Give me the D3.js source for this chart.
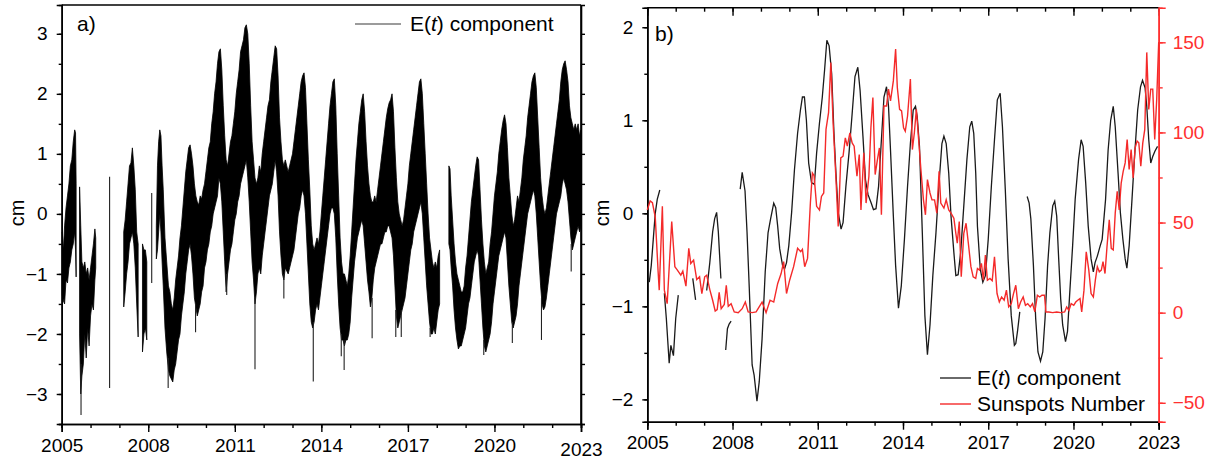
<!DOCTYPE html>
<html><head><meta charset="utf-8">
<script src="https://cdn.jsdelivr.net/npm/d3@7"></script>
<style>body{margin:0;background:#fff}svg{display:block}text{font-family:"Liberation Sans",Arial,sans-serif}</style>
</head><body><svg id="c" width="1219" height="461"></svg>
<script>
// ---------- Panel a: E(t) band (upper/lower envelope, null = data gap) ----------
const aYears = [2005.02,2005.06,2005.10,2005.15,2005.20,2005.25,2005.30,2005.35,2005.40,2005.45,2005.48,2005.50,2005.55,
2005.62,2005.66,2005.70,2005.75,2005.80,2005.85,2005.90,2005.95,2006.00,2006.05,2006.10,2006.15,2006.18,2006.3,
2007.15,2007.20,2007.25,2007.30,2007.35,2007.40,2007.45,2007.50,2007.55,2007.60,2007.65,2007.72,
2007.80,2007.85,2007.90,2007.95,2008.1,
2008.28,2008.32,2008.36,2008.40,2008.44,2008.48,2008.52,2008.58,2008.64,2008.70,2008.75,2008.80,2008.85,2008.90,2008.95,
2009.00,2009.05,2009.10,2009.15,2009.20,2009.25,2009.30,2009.35,2009.40,2009.45,2009.50,2009.55,2009.60,2009.65,2009.70,2009.75,2009.80,2009.85,2009.90,2009.95,
2010.00,2010.05,2010.10,2010.15,2010.20,2010.25,2010.30,2010.35,2010.40,2010.45,2010.50,2010.55,2010.60,2010.65,2010.70,2010.75,2010.80,2010.85,2010.90,2010.95,
2011.00,2011.05,2011.10,2011.15,2011.20,2011.25,2011.30,2011.35,2011.40,2011.45,2011.50,2011.55,2011.60,2011.65,2011.70,2011.75,2011.80,2011.85,2011.90,2011.95,
2012.00,2012.05,2012.10,2012.15,2012.20,2012.25,2012.30,2012.35,2012.40,2012.45,2012.50,2012.55,2012.60,2012.65,2012.70,2012.75,2012.80,2012.85,2012.90,2012.95,
2013.00,2013.05,2013.10,2013.15,2013.20,2013.25,2013.30,2013.35,2013.40,2013.45,2013.50,2013.55,2013.60,2013.65,2013.70,2013.75,2013.80,2013.85,2013.90,2013.95,
2014.00,2014.05,2014.10,2014.15,2014.20,2014.25,2014.30,2014.35,2014.40,2014.45,2014.50,2014.55,2014.60,2014.65,2014.70,2014.75,2014.80,2014.85,2014.90,2014.95,
2015.00,2015.05,2015.10,2015.15,2015.20,2015.25,2015.30,2015.35,2015.40,2015.45,2015.50,2015.55,2015.60,2015.65,2015.70,2015.75,2015.80,2015.85,2015.90,2015.95,
2016.00,2016.05,2016.10,2016.15,2016.20,2016.25,2016.30,2016.35,2016.40,2016.45,2016.50,2016.55,2016.60,2016.65,2016.70,2016.75,2016.80,2016.85,2016.90,2016.95,
2017.00,2017.05,2017.10,2017.15,2017.20,2017.25,2017.30,2017.35,2017.40,2017.45,2017.50,2017.55,2017.60,2017.65,2017.70,2017.75,2017.80,2017.85,2017.90,2017.95,
2018.00,2018.05,2018.10,2018.2,
2018.42,2018.46,2018.50,2018.55,2018.60,2018.65,2018.70,2018.75,2018.80,2018.85,2018.90,2018.95,
2019.00,2019.05,2019.10,2019.15,2019.20,2019.25,2019.30,2019.35,2019.40,2019.45,2019.50,2019.55,2019.60,2019.65,2019.70,2019.75,2019.80,2019.85,2019.90,2019.95,
2020.00,2020.05,2020.10,2020.15,2020.20,2020.25,2020.30,2020.35,2020.40,2020.45,2020.50,2020.55,2020.60,2020.65,2020.70,2020.75,2020.80,2020.85,2020.90,2020.95,
2021.00,2021.05,2021.10,2021.15,2021.20,2021.25,2021.30,2021.35,2021.40,2021.45,2021.50,2021.55,2021.60,2021.65,2021.70,2021.75,2021.80,2021.85,2021.90,2021.95,
2022.00,2022.05,2022.10,2022.15,2022.20,2022.25,2022.30,2022.35,2022.40,2022.45,2022.50,2022.55,2022.60,2022.65,2022.70,2022.75,2022.80,2022.85,2022.90,2022.95,2023.00];
const aUpper = [-0.3,-0.6,-0.2,0.1,0.3,0.5,0.8,0.9,1.2,1.4,1.35,0.5,null,
0.45,-0.2,-0.8,-0.9,-0.8,-1.0,-0.9,-1.1,-0.9,-0.7,-0.5,-0.25,-0.4,null,
-0.3,-0.1,0.2,0.5,0.8,0.85,1.1,0.8,0.4,-0.3,-0.5,null,
-0.5,-0.6,-0.6,-0.8,null,
-0.2,0.8,1.2,1.4,1.3,0.8,0.4,-0.4,-0.8,-1.2,-1.3,-1.5,-1.6,-1.4,-1.1,
-0.9,-0.7,-0.4,-0.2,0.1,0.4,0.7,0.9,1.1,1.15,1.0,0.8,0.5,0.3,0.2,0.15,0.3,0.25,0.4,0.5,
0.7,0.9,1.1,1.2,1.5,1.7,2.0,2.2,2.5,2.7,2.75,2.4,1.8,1.3,0.9,0.8,1.0,1.2,1.3,1.5,
1.7,2.0,2.2,2.4,2.7,2.8,2.9,3.1,3.15,3.0,2.5,1.8,1.2,0.9,0.6,0.5,0.6,0.8,0.7,1.0,
1.2,1.4,1.6,1.8,1.9,2.2,2.4,2.6,2.8,2.75,2.3,1.6,1.2,0.9,0.8,0.9,0.8,0.7,0.8,0.9,
1.0,1.2,1.4,1.6,1.8,2.0,2.2,2.3,2.35,2.1,1.5,0.9,0.4,-0.2,-0.5,-0.6,-0.5,-0.4,-0.5,-0.3,
0.0,0.3,0.6,0.9,1.2,1.5,1.8,2.0,2.2,2.25,1.8,1.0,0.3,-0.4,-0.8,-1.0,-1.0,-1.1,-1.2,-1.0,
-0.7,-0.3,0.1,0.5,0.9,1.2,1.5,1.7,1.9,2.0,1.7,1.2,0.8,0.5,0.3,0.2,0.2,0.3,0.2,0.4,
0.6,0.8,1.0,1.2,1.4,1.6,1.75,1.85,1.9,2.0,1.7,1.1,0.6,0.2,0.0,-0.1,-0.2,-0.1,0.1,0.3,
0.5,0.8,1.0,1.2,1.4,1.6,1.8,2.0,2.2,2.25,2.0,1.5,1.0,0.5,0.0,-0.4,-0.6,-0.8,-0.9,-0.8,
-0.9,-0.7,-0.6,null,
0.8,0.75,0.3,-0.1,-0.5,-0.8,-1.0,-1.1,-1.2,-1.3,-1.3,-1.2,
-0.9,-0.7,-0.4,-0.1,0.2,0.4,0.6,0.8,0.95,0.9,0.4,-0.1,-0.5,-0.8,-1.0,-0.9,-0.8,-0.5,-0.3,0.0,
0.3,0.5,0.7,1.0,1.2,1.4,1.55,1.65,1.5,1.1,0.6,0.3,0.0,-0.2,-0.1,0.1,0.3,0.2,0.4,0.6,
0.9,1.1,1.3,1.6,1.8,2.0,2.2,2.3,2.35,2.1,1.6,1.1,0.6,0.3,0.1,0.0,0.1,0.3,0.5,0.7,
0.9,1.1,1.3,1.5,1.7,1.9,2.2,2.4,2.5,2.55,2.4,2.2,1.8,1.6,1.5,1.4,1.5,1.4,1.5,1.3,1.4];
const aLower = [-1.35,-1.45,-1.5,-1.1,-1.15,-0.9,-0.8,-0.6,-0.5,-0.3,-0.6,-1.05,null,
-2.0,-3.0,-2.7,-2.5,-2.0,-2.4,-1.9,-2.2,-1.7,-1.5,-1.6,-1.1,-0.9,null,
-1.55,-1.3,-1.0,-0.8,-0.5,-0.4,-0.3,-0.5,-0.9,-1.5,-2.05,null,
-2.3,-2.0,-1.9,-2.1,null,
-0.75,-0.6,-0.3,0.0,-0.3,-0.8,-1.2,-1.9,-2.3,-2.6,-2.7,-2.75,-2.8,-2.6,-2.5,
-2.3,-2.1,-2.0,-1.7,-1.5,-1.3,-1.0,-0.8,-0.6,-0.5,-0.7,-1.0,-1.4,-1.55,-1.7,-1.6,-1.5,-1.3,-1.2,-0.9,
-0.8,-0.6,-0.5,-0.3,-0.2,0.0,0.1,0.2,0.3,0.6,0.5,0.2,-0.3,-0.8,-1.3,-1.0,-0.8,-0.6,-0.5,-0.3,
-0.1,0.0,0.2,0.3,0.5,0.6,0.7,0.8,0.9,0.6,0.2,-0.3,-0.8,-1.1,-1.5,-1.3,-1.0,-0.9,-1.0,-0.7,
-0.5,-0.3,-0.1,0.1,0.3,0.4,0.5,0.7,0.9,0.7,0.3,-0.3,-0.7,-1.0,-1.1,-0.9,-0.95,-1.0,-0.9,-0.8,
-0.7,-0.6,-0.4,-0.2,0.0,0.1,0.3,0.4,0.3,0.0,-0.5,-1.0,-1.5,-1.8,-1.9,-1.8,-1.6,-1.5,-1.6,-1.4,
-1.2,-1.0,-0.8,-0.6,-0.4,-0.2,0.0,0.1,0.1,0.0,-0.4,-1.0,-1.5,-1.9,-2.1,-2.1,-2.2,-2.1,-2.1,-2.0,
-1.8,-1.4,-1.1,-0.8,-0.6,-0.4,-0.3,-0.2,-0.1,-0.2,-0.5,-0.8,-1.1,-1.3,-1.55,-1.4,-1.1,-0.9,-0.8,-0.7,
-0.6,-0.5,-0.5,-0.4,-0.3,-0.3,-0.2,-0.2,-0.3,-0.4,-0.7,-1.2,-1.7,-1.9,-1.8,-1.7,-1.6,-1.5,-1.4,-1.2,
-1.0,-0.8,-0.6,-0.5,-0.3,-0.2,-0.1,0.0,0.1,0.2,0.0,-0.4,-0.8,-1.2,-1.5,-1.8,-2.0,-2.0,-1.9,-2.0,
-1.8,-1.6,-1.5,null,
-0.5,-0.6,-0.9,-1.2,-1.6,-1.9,-2.1,-2.25,-2.2,-2.2,-2.1,-2.0,
-1.9,-1.7,-1.5,-1.4,-1.2,-1.0,-0.8,-0.7,-0.6,-0.7,-1.1,-1.5,-1.9,-2.2,-2.3,-2.2,-2.1,-2.0,-1.8,-1.5,
-1.3,-1.1,-0.9,-0.7,-0.6,-0.5,-0.4,-0.3,-0.4,-0.8,-1.2,-1.5,-1.8,-1.9,-1.8,-1.7,-1.5,-1.2,-1.0,-0.8,
-0.6,-0.4,-0.2,0.0,0.1,0.2,0.3,0.4,0.3,0.0,-0.4,-0.8,-1.2,-1.5,-1.6,-1.55,-1.4,-1.2,-1.0,-0.8,
-0.6,-0.4,-0.2,0.0,0.1,0.2,0.3,0.5,0.6,0.5,0.4,0.2,-0.1,-0.4,-0.6,-0.5,-0.4,-0.3,-0.2,-0.3,-0.2];
// isolated spikes in panel a
const spikeYears  = [2005.67,2006.66,2008.12,2008.69,2009.64,2010.72,2011.70,2012.70,2013.72,2014.69,2014.79,2015.76,2016.58,2016.77,2017.77,2019.63,2020.62,2021.63,2022.66];
const spikeTop    = [-2.5, 0.62, 0.35,-2.4,-1.5,-1.0,-1.4,-1.0,-1.8,-2.0,-2.1,-1.4,-1.6,-1.6,-1.9,-2.1,-1.8,-1.4,-0.5];
const spikeBottom = [-3.35,-2.9,-1.15,-2.9,-1.97,-1.35,-2.59,-1.41,-2.79,-2.37,-2.6,-2.07,-2.05,-2.05,-2.05,-2.35,-2.15,-2.1,-0.96];

// ---------- Panel b: monthly E(t) component (null = gap) ----------
const eYears = [2005.07,2005.14,2005.21,2005.28,2005.35,2005.44,2005.5,
2005.60,2005.67,2005.77,2005.83,2005.92,2006.00,2006.09,2006.3,
2006.60,2006.70,2006.9,
2007.09,2007.20,2007.30,2007.37,2007.44,2007.50,2007.59,2007.65,
2007.76,2007.82,2007.88,2007.95,2008.1,
2008.27,2008.34,2008.44,2008.51,2008.59,2008.69,2008.76,2008.86,2008.94,2009.04,2009.15,2009.25,2009.34,2009.45,2009.52,2009.59,2009.66,2009.76,2009.83,2009.90,2009.98,
2010.08,2010.18,2010.29,2010.39,2010.46,2010.53,2010.60,2010.68,2010.78,2010.88,2010.96,2011.06,2011.16,2011.24,2011.32,2011.40,2011.49,2011.57,2011.64,2011.72,2011.82,2011.89,2011.99,
2012.10,2012.21,2012.31,2012.41,2012.49,2012.59,2012.68,2012.77,2012.88,2012.96,2013.05,2013.14,2013.24,2013.33,2013.42,2013.49,2013.56,2013.66,2013.74,2013.84,2013.94,
2014.05,2014.16,2014.26,2014.36,2014.44,2014.50,2014.58,2014.68,2014.77,2014.86,2014.95,2015.05,2015.16,2015.27,2015.37,2015.44,2015.52,2015.61,2015.69,2015.79,2015.86,2015.94,
2016.03,2016.14,2016.25,2016.35,2016.42,2016.49,2016.56,2016.62,2016.72,2016.81,2016.90,2017.00,2017.11,2017.22,2017.32,2017.42,2017.50,2017.60,2017.70,2017.81,2017.92,2017.97,2018.03,2018.11,2018.2,
2018.37,2018.44,2018.50,2018.59,2018.67,2018.75,2018.84,2018.92,2019.00,2019.09,2019.17,2019.27,2019.34,2019.41,2019.48,2019.55,2019.62,2019.72,2019.79,2019.87,2019.97,
2020.06,2020.18,2020.27,2020.34,2020.43,2020.52,2020.62,2020.70,2020.76,2020.84,2020.94,2021.01,2021.13,2021.22,2021.31,2021.40,2021.47,2021.57,2021.65,2021.74,2021.82,2021.88,2021.96,
2022.06,2022.15,2022.26,2022.36,2022.43,2022.52,2022.58,2022.65,2022.72,2022.79,2022.87,2022.96];
const eValues = [-0.74,-0.56,-0.28,0.0,0.15,0.25,null,
-0.86,-1.13,-1.61,-1.42,-1.53,-1.13,-0.88,null,
-0.70,-0.93,null,
-0.83,-0.53,-0.2,-0.06,0.01,-0.2,-0.70,null,
-1.47,-1.24,-1.19,-1.16,null,
0.26,0.44,0.24,-0.2,-0.81,-1.63,-1.74,-2.02,-1.81,-1.35,-0.63,-0.21,-0.06,0.11,0.06,-0.14,-0.38,-0.56,-0.6,-0.53,-0.35,
0.01,0.47,0.86,1.11,1.25,1.25,1.0,0.54,0.33,0.31,0.65,0.97,1.25,1.54,1.86,1.8,1.5,0.86,0.43,0.01,-0.17,-0.1,0.29,
0.65,1.07,1.47,1.57,1.32,0.83,0.36,0.2,0.11,0.04,0.05,0.29,0.79,1.25,1.36,1.15,0.68,-0.03,-0.56,-1.02,-0.78,
-0.28,0.29,0.75,1.11,1.15,1.04,0.72,-0.21,-1.1,-1.52,-1.2,-0.67,-0.21,0.33,0.75,0.83,0.75,0.43,-0.03,-0.42,-0.67,-0.66,
-0.42,0.08,0.58,0.93,0.99,0.86,0.43,-0.14,-0.6,-0.74,-0.67,-0.28,0.29,0.79,1.22,1.29,0.93,0.26,-0.49,-1.1,-1.42,-1.4,-1.27,-1.06,null,
0.18,0.11,-0.06,-0.56,-1.13,-1.49,-1.59,-1.49,-1.13,-0.56,-0.21,0.08,0.13,-0.03,-0.49,-0.92,-1.2,-1.38,-1.27,-0.85,-0.35,
0.15,0.58,0.79,0.72,0.33,-0.14,-0.49,-0.63,-0.53,-0.46,-0.35,-0.28,0.15,0.68,1.0,1.15,0.93,0.43,0.01,-0.28,-0.49,-0.59,-0.35,
0.15,0.61,1.11,1.36,1.43,1.35,1.15,0.79,0.54,0.61,0.67,0.72];

// ---------- Panel b: Sunspots Number ----------
const ssnYears = [2005.00,2005.10,2005.18,2005.28,2005.38,2005.42,2005.53,2005.60,2005.70,2005.86,2005.97,2006.04,2006.18,2006.25,2006.36,2006.46,2006.53,2006.63,2006.74,2006.84,2006.92,
2007.02,2007.09,2007.20,2007.30,2007.39,2007.46,2007.53,2007.60,2007.71,2007.78,2007.85,2007.95,2008.06,2008.20,2008.34,2008.45,2008.55,2008.69,2008.83,
2009.04,2009.18,2009.32,2009.45,2009.59,2009.71,2009.80,2009.90,2010.01,2010.15,2010.29,2010.40,2010.46,2010.54,2010.64,2010.74,2010.81,2010.87,2010.96,
2011.06,2011.13,2011.21,2011.29,2011.38,2011.46,2011.54,2011.63,2011.72,2011.81,2011.89,2011.97,2012.04,2012.13,2012.21,2012.28,2012.38,2012.46,2012.52,2012.62,2012.70,2012.80,2012.87,2012.94,
2013.02,2013.10,2013.17,2013.24,2013.33,2013.42,2013.49,2013.56,2013.66,2013.74,2013.80,2013.88,2013.95,2014.02,2014.08,2014.16,2014.26,2014.33,2014.40,2014.47,2014.55,2014.63,2014.72,2014.79,2014.86,2014.95,
2015.02,2015.11,2015.19,2015.27,2015.33,2015.44,2015.52,2015.61,2015.69,2015.79,2015.86,2015.91,2015.98,2016.05,2016.14,2016.22,2016.30,2016.39,2016.47,2016.56,2016.62,2016.69,2016.76,2016.83,2016.90,2016.97,
2017.06,2017.14,2017.22,2017.31,2017.39,2017.47,2017.56,2017.64,2017.72,2017.81,2017.89,2017.97,2018.06,2018.14,2018.23,2018.31,2018.39,2018.48,2018.56,2018.64,2018.73,2018.81,2018.89,2018.98,
2019.03,2019.13,2019.27,2019.41,2019.55,2019.69,2019.76,2019.84,2019.92,2020.01,2020.08,2020.15,2020.23,2020.29,2020.37,2020.45,2020.54,2020.62,2020.70,2020.77,2020.84,2020.91,2020.98,
2021.04,2021.11,2021.18,2021.26,2021.33,2021.40,2021.47,2021.54,2021.61,2021.68,2021.75,2021.82,2021.89,2021.96,2022.03,2022.10,2022.17,2022.24,2022.30,2022.37,2022.44,2022.51,2022.58,2022.65,2022.72,2022.79,2022.86,2022.93,2023.00];
const ssnValues = [57,62,61,53,23,12.5,59,12.5,5,50.6,25.5,24,20.8,23,14.7,35.7,27.3,29.2,18.4,19.9,10.6,
19.9,20.8,12.8,6.9,0.9,1.7,11.3,2.2,4.6,15.2,3.5,5,0.4,0,2.2,5.9,0.4,0,0.4,
5.9,0,6.9,5.9,16.2,21.7,28.3,10.6,18,25.5,35.7,33.8,35.1,25.5,30.1,60.8,77.5,76,59,
57,64.5,66.4,101.7,111,138.8,105.4,77.5,47.8,85.9,86.8,97,92.4,99.8,94.2,92.4,75.7,87.7,57,88.7,60.8,75.7,102.6,119.3,
76.6,84.9,91.4,54.3,114.7,114.7,124,117.5,128.6,146.3,124.9,112.8,111.9,102.6,100.7,109.1,129.6,90.5,99.8,112.8,96.1,79.4,62.6,54.3,73.8,66.4,
62.6,62.6,55.2,78.4,60.8,58,62.6,57,55.2,52.4,44,38.5,50.6,19.9,44,49.6,38.5,25.5,19.9,19,24.5,23.6,27.3,18,32,18,
19,17.7,31,10.6,5.9,8.7,6.9,12.5,3.2,5,10.6,15.2,2.2,5.9,8.7,4.1,5,3.2,5,0.4,9.7,8.7,9.7,9.7,
0.4,0.4,0,0.4,0,0.4,3.2,1.3,5,4.1,5.9,6.9,7.8,0.4,12.5,33.8,23.6,10.6,8.7,18,25.5,22.7,23.6,
28.3,21.7,36.6,51.5,35.7,34.8,55.2,67.3,57,71.9,78.4,83.1,96.1,79.4,90.5,74.7,91.4,95.2,94.2,81.2,94.2,101.7,144.4,112.8,124,124,96.1,118.4,150];

// ---------- ticks ----------
const yearTicks = [2005,2008,2011,2014,2017,2020,2023];
const yearMinor = d3.range(2005,2024,1);
const aTicks = [-3,-2,-1,0,1,2,3];
const bTicks = [-2,-1,0,1,2];
const ssnTicks = [-50,0,50,100,150];

// ---------- drawing ----------
const svg = d3.select("#c");
const FS = 19;
const xA = d3.scaleLinear([2005,2023],[61.7,581]);
const yA = d3.scaleLinear([-3.5,3.48],[424,5]);
const xB = d3.scaleLinear([2005,2023],[647.3,1158.7]);
const yB = d3.scaleLinear([-2.24,2.21],[421.7,7.7]);
const yR = d3.scaleLinear([-60.5,169.2],[421.7,7.7]);

function styleAxis(g, color){
  g.selectAll("path").attr("stroke",color).attr("stroke-width",1.6);
  g.selectAll("line").attr("stroke",color).attr("stroke-width",1.4);
  g.selectAll("text").attr("fill",color).style("font-size",FS+"px").style("font-family","'Liberation Sans',Arial,sans-serif");
}
function axes(g, x, y, yt, yMinorStep, xPad){
  const [x0,x1] = x.range(), [yb,yt0] = y.range();
  const bm = g.append("g").attr("transform",`translate(0,${yb})`).call(d3.axisBottom(x).tickValues(yearMinor).tickSize(4).tickFormat(""));
  styleAxis(bm,"#000");
  const bM = g.append("g").attr("class","xmaj").attr("transform",`translate(0,${yb})`).call(d3.axisBottom(x).tickValues(yearTicks).tickSize(8).tickPadding(xPad).tickFormat(d3.format("d")));
  styleAxis(bM,"#000");
  const ydom = y.domain();
  const minor = d3.range(Math.ceil(ydom[0]/yMinorStep)*yMinorStep, ydom[1], yMinorStep);
  const lm = g.append("g").attr("transform",`translate(${x0},0)`).call(d3.axisLeft(y).tickValues(minor).tickSize(3).tickFormat(""));
  styleAxis(lm,"#000");
  const lM = g.append("g").attr("transform",`translate(${x0},0)`).call(d3.axisLeft(y).tickValues(yt).tickSize(5).tickPadding(9).tickFormat(d3.format("d")));
  styleAxis(lM,"#000");
  return {x0,x1,yb,yt0,minor,bM};
}

// ---- Panel a ----
const ga = svg.append("g");
const bandRows = aYears.map((t,i)=>({t,u:aUpper[i],l:aLower[i]}));
const area = d3.area().defined(d=>d.u!=null).x(d=>xA(d.t)).y0(d=>yA(d.l)).y1(d=>yA(d.u));
ga.append("path").datum(bandRows).attr("d",area).attr("fill","#000").attr("stroke","#000").attr("stroke-width",0.8);
ga.selectAll("line.spk").data(spikeYears).join("line").attr("class","spk")
  .attr("x1",d=>xA(d)).attr("x2",d=>xA(d)).attr("y1",(d,i)=>yA(spikeTop[i])).attr("y2",(d,i)=>yA(spikeBottom[i]))
  .attr("stroke","#222").attr("stroke-width",1.1);
const A = axes(ga,xA,yA,aTicks,0.5,7);
// the last label of panel a sits slightly lower in the reference
A.bM.selectAll(".tick").filter(d=>d===2023).select("text").attr("y",19);
ga.append("line").attr("x1",A.x0).attr("x2",A.x1).attr("y1",A.yt0).attr("y2",A.yt0).attr("stroke","#000").attr("stroke-width",1.6);
ga.append("line").attr("x1",A.x1).attr("x2",A.x1).attr("y1",A.yt0).attr("y2",A.yb).attr("stroke","#000").attr("stroke-width",1.6);
const ra = ga.append("g").attr("transform",`translate(${A.x1},0)`).call(d3.axisRight(yA).tickValues(A.minor).tickSize(4).tickFormat(""));
styleAxis(ra,"#000");
ga.append("text").attr("x",77).attr("y",31).style("font-size","21px").text("a)");
ga.append("text").attr("transform","translate(24,213) rotate(-90)").attr("text-anchor","middle").style("font-size","20px").text("cm");
ga.append("line").attr("x1",355).attr("x2",401).attr("y1",24).attr("y2",24).attr("stroke","#7a7a7a").attr("stroke-width",1.3);
const la = ga.append("text").attr("x",410).attr("y",31).style("font-size","21px");
la.append("tspan").text("E(");la.append("tspan").style("font-style","italic").text("t");la.append("tspan").text(") component");

// ---- Panel b ----
const gb = svg.append("g");
const B = axes(gb,xB,yB,bTicks,0.5,6);
gb.append("line").attr("x1",B.x0).attr("x2",B.x1).attr("y1",B.yt0).attr("y2",B.yt0).attr("stroke","#000").attr("stroke-width",1.6);
const tm = gb.append("g").attr("transform",`translate(0,${B.yt0})`).call(d3.axisBottom(xB).tickValues(yearMinor).tickSize(4).tickFormat(""));
styleAxis(tm,"#000"); tm.select("path").remove();
const tM = gb.append("g").attr("transform",`translate(0,${B.yt0})`).call(d3.axisBottom(xB).tickValues(yearTicks).tickSize(8).tickFormat(""));
styleAxis(tM,"#000"); tM.select("path").remove();
const red = "#ff3030";
const rMinor = d3.range(-50,170,25);
const rm = gb.append("g").attr("transform",`translate(${B.x1},0)`).call(d3.axisRight(yR).tickValues(rMinor).tickSize(4).tickFormat(""));
styleAxis(rm,red);
const rM = gb.append("g").attr("transform",`translate(${B.x1},0)`).call(d3.axisRight(yR).tickValues(ssnTicks).tickSize(7).tickPadding(7).tickFormat(d3.format("d")));
styleAxis(rM,red);
const eRows = eYears.map((t,i)=>({t,v:eValues[i]}));
gb.append("path").datum(eRows).attr("d",d3.line().defined(d=>d.v!=null).x(d=>xB(d.t)).y(d=>yB(d.v)))
  .attr("fill","none").attr("stroke","#1a1a1a").attr("stroke-width",1.3);
const sRows = ssnYears.map((t,i)=>({t,v:ssnValues[i]}));
gb.append("path").datum(sRows).attr("d",d3.line().x(d=>xB(d.t)).y(d=>yR(d.v)))
  .attr("fill","none").attr("stroke","#f42a2a").attr("stroke-width",1.4);
gb.append("text").attr("x",655).attr("y",41).style("font-size","21px").text("b)");
gb.append("text").attr("transform","translate(609,213) rotate(-90)").attr("text-anchor","middle").style("font-size","20px").text("cm");
gb.append("line").attr("x1",940).attr("x2",971).attr("y1",378).attr("y2",378).attr("stroke","#1a1a1a").attr("stroke-width",1.3);
gb.append("line").attr("x1",940).attr("x2",971).attr("y1",404).attr("y2",404).attr("stroke","#f42a2a").attr("stroke-width",1.4);
const lb = gb.append("text").attr("x",977).attr("y",385).style("font-size","21px");
lb.append("tspan").text("E(");lb.append("tspan").style("font-style","italic").text("t");lb.append("tspan").text(") component");
gb.append("text").attr("x",977).attr("y",411).style("font-size","21px").text("Sunspots Number");
</script></body></html>
